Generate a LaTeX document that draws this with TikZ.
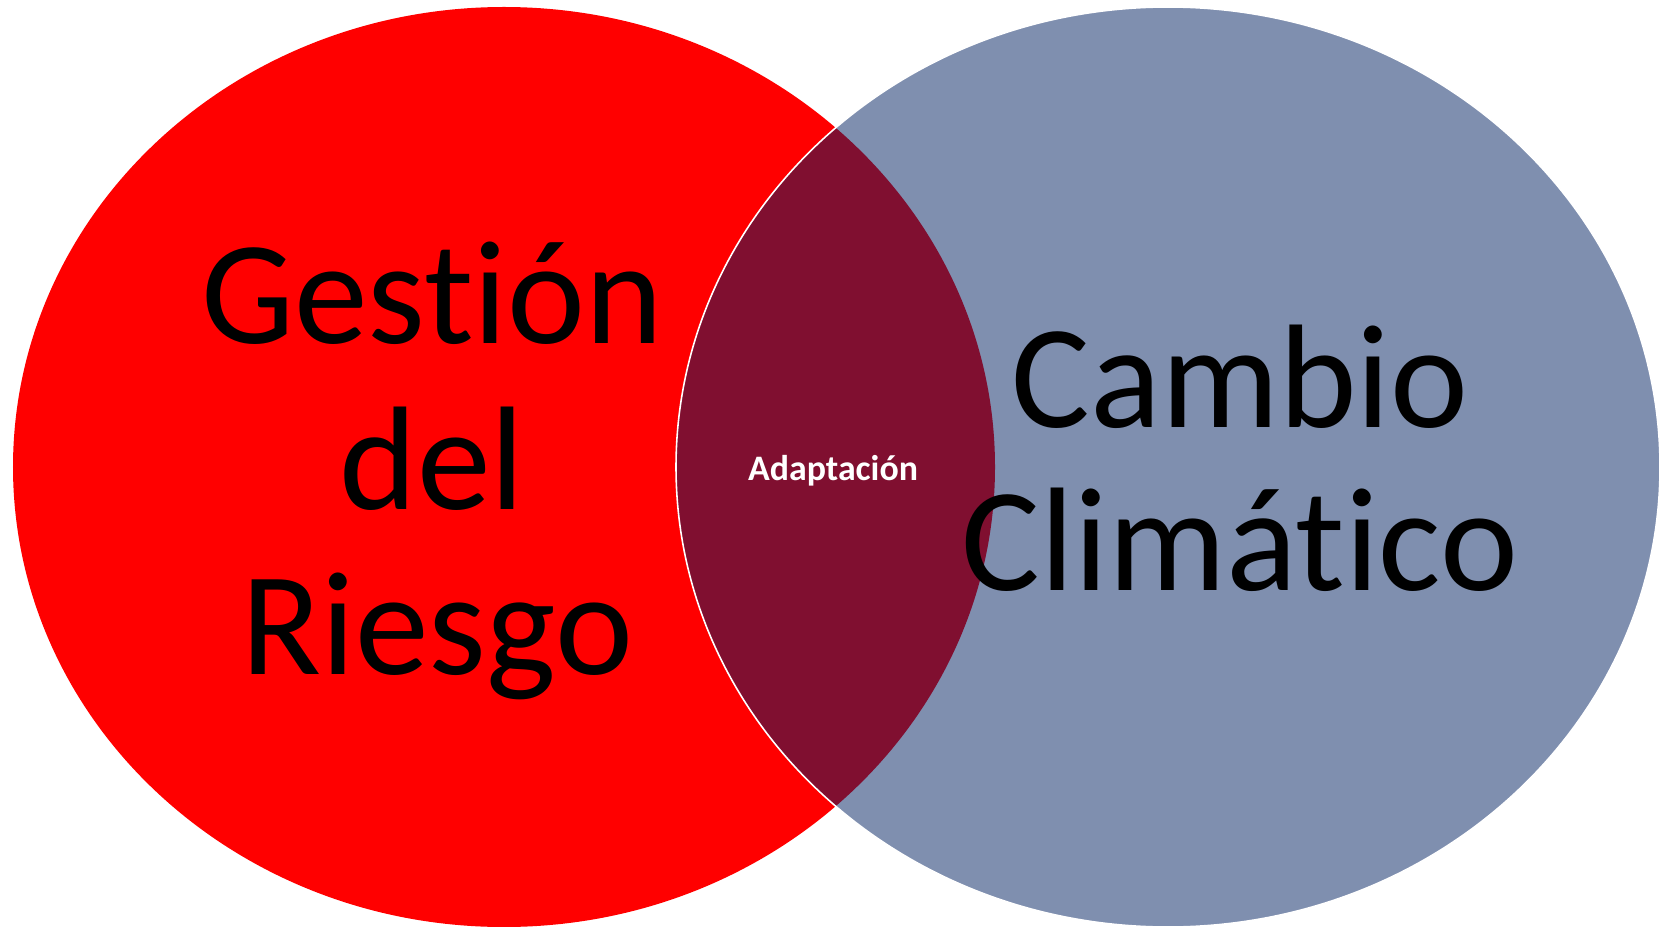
\documentclass[tikz,border=0pt]{standalone}
\usepackage{fontspec}
\setmainfont{Carlito}[Ligatures=NoCommon]
\usepackage{tikz}
\definecolor{riskred}{HTML}{FF0000}
\definecolor{climgray}{HTML}{7F8FAF}
\definecolor{adaptred}{HTML}{800F30}
\newcommand{\BigLbl}{\fontsize{42}{47}\selectfont}
\newcommand{\SmallLbl}{\fontsize{10.2}{12}\selectfont\bfseries}

\begin{document}
\begin{tikzpicture}[lbl/.style={anchor=base, inner sep=0pt}]
    \useasboundingbox (0,0) rectangle (16.72,9.26);
    \fill[riskred] (5.04,4.59) ellipse [x radius=4.91, y radius=4.60];
    \fill[climgray] (11.68,4.59) ellipse [x radius=4.92, y radius=4.60];
    \begin{scope}
        \clip (5.04,4.59) ellipse [x radius=4.91, y radius=4.60];
        \fill[adaptred] (11.68,4.59) ellipse [x radius=4.92, y radius=4.60];
    \end{scope}
    \draw[white, line width=0.45pt] (11.68,4.59) ellipse [x radius=4.92, y radius=4.60];
    \node[lbl] (gestion) at (4.32,5.82) {\BigLbl Gestión};
    \node[lbl] (del) at (4.32,4.17) {\BigLbl del};
    \node[lbl] (riesgo) at (4.37,2.52) {\BigLbl Riesgo};
    \node[lbl] (cambio) at (12.40,4.99) {\BigLbl Cambio};
    \node[lbl] (climatico) at (12.40,3.36) {\BigLbl Climático};
    \node[lbl, white] (adapt) at (8.33,4.46) {\SmallLbl Adaptación};
\end{tikzpicture}
\end{document}
